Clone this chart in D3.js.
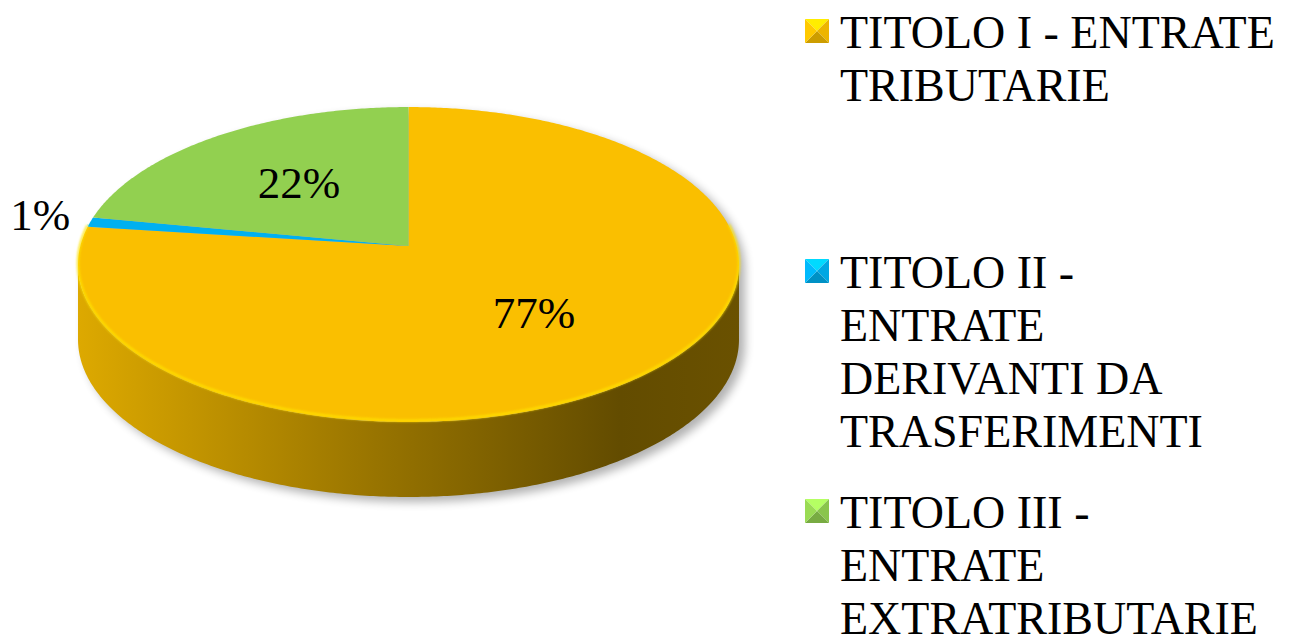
<!DOCTYPE html>
<html>
<head>
<meta charset="utf-8">
<script src="https://cdn.jsdelivr.net/npm/d3@7"></script>
<style>
  body { margin: 0; background: #fff; }
  text { font-family: "Liberation Serif", "Times New Roman", serif; fill: #000; }
</style>
</head>
<body>
<svg id="chart" width="1299" height="644"></svg>
<script>
// data
const categories = [
  "TITOLO I - ENTRATE TRIBUTARIE",
  "TITOLO II - ENTRATE DERIVANTI DA TRASFERIMENTI",
  "TITOLO III - ENTRATE EXTRATRIBUTARIE"
];
const legendLines = [
  ["TITOLO I - ENTRATE", "TRIBUTARIE"],
  ["TITOLO II -", "ENTRATE", "DERIVANTI DA", "TRASFERIMENTI"],
  ["TITOLO III -", "ENTRATE", "EXTRATRIBUTARIE"]
];
const values = [77, 1, 22];
const colors = ["#FABF00", "#00B0F0", "#92D050"];

const svg = d3.select("#chart");

// 3d pie geometry (perspective tilt of a flat disc)
const cx = 408.5, cy = 246;
const A = 328.2, B = 155.3, k = 0.1175;
const depth = 75;
const fontSize = 45;

/**
 * projects a point of the disc (angle clockwise from 12 o'clock, radius 0..1)
 * @returns [x, y] on screen
 */
const project = (a, r) => {
  const u = r * Math.sin(a), v = r * Math.cos(a);
  const w = 1 + k * v;
  return [cx + A * u / w, cy - B * v / w];
};

const rim = (a0, a1, dy = 0) => {
  const n = Math.max(2, Math.ceil(Math.abs(a1 - a0) / 0.01));
  return d3.range(n + 1).map(i => {
    const p = project(a0 + (a1 - a0) * i / n, 1);
    return [p[0], p[1] + dy];
  });
};

const total = d3.sum(values);
const arcs = d3.pie().sort(null).value(d => d)(values);

const defs = svg.append("defs");

defs.append("filter")
  .attr("id", "shadow")
  .attr("x", "-20%").attr("y", "-20%").attr("width", "140%").attr("height", "140%")
  .append("feGaussianBlur")
  .attr("stdDeviation", 5);

defs.append("filter")
  .attr("id", "soft")
  .append("feGaussianBlur")
  .attr("stdDeviation", 0.8);

// visible part of the outer wall: between the two tangent points
const wallStart = Math.acos(-k);
const wallEnd = 2 * Math.PI - wallStart;
const leftX = cx - A / Math.sqrt(1 - k * k);
const rightX = cx + A / Math.sqrt(1 - k * k);

colors.forEach((c, i) => {
  const g = defs.append("linearGradient")
    .attr("id", "wall" + i)
    .attr("gradientUnits", "userSpaceOnUse")
    .attr("x1", leftX).attr("x2", rightX)
    .attr("y1", 0).attr("y2", 0);
  [[0, 0.35], [0.45, 1.4], [0.82, 2.6], [1, 2.4]].forEach(([o, d]) => {
    g.append("stop").attr("offset", o).attr("stop-color", d3.color(c).darker(d));
  });
});

const line = d3.line();

// shadow under the disc
const bottom = rim(wallStart, wallEnd, depth);
svg.append("path")
  .attr("d", line(rim(wallEnd, 2 * Math.PI + wallStart).concat(bottom)) + "Z")
  .attr("transform", "translate(6,5)")
  .attr("fill", "#000")
  .attr("opacity", 0.3)
  .attr("filter", "url(#shadow)");

// outer walls
arcs.forEach((d, i) => {
  const a0 = Math.max(d.startAngle, wallStart);
  const a1 = Math.min(d.endAngle, wallEnd);
  if (a1 <= a0) return;
  const top = rim(a0, a1);
  const bot = rim(a1, a0, depth);
  svg.append("path")
    .attr("d", line(top.concat(bot)) + "Z")
    .attr("fill", `url(#wall${i})`);
});

// top faces
arcs.forEach((d, i) => {
  const pts = [project(0, 0)].concat(rim(d.startAngle, d.endAngle));
  svg.append("path")
    .attr("d", line(pts) + "Z")
    .attr("fill", colors[i]);
});

// light bevel along the front rim
arcs.forEach((d, i) => {
  const a0 = Math.max(d.startAngle, wallStart - 0.25);
  const a1 = Math.min(d.endAngle, wallEnd + 0.25);
  if (a1 <= a0) return;
  svg.append("path")
    .attr("d", line(rim(a0, a1, -1.5)))
    .attr("fill", "none")
    .attr("stroke", d3.color(colors[i]).brighter(0.5))
    .attr("stroke-width", 2.5)
    .attr("opacity", 0.8)
    .attr("filter", "url(#soft)");
});

// data labels
arcs.forEach((d, i) => {
  const mid = (d.startAngle + d.endAngle) / 2;
  const pct = Math.round(values[i] / total * 100) + "%";
  if (values[i] / total < 0.03) {
    const p = project(mid, 1);
    svg.append("text")
      .attr("x", p[0] - 20)
      .attr("y", p[1] - 7 + 15)
      .attr("text-anchor", "end")
      .attr("font-size", fontSize)
      .text(pct);
  } else {
    const p = project(mid, 0.55);
    svg.append("text")
      .attr("x", p[0])
      .attr("y", p[1] + 15)
      .attr("text-anchor", "middle")
      .attr("font-size", fontSize)
      .text(pct);
  }
});

// legend
const legendX = 840, legendTop = 48, entryStep = 240, lineStep = 53;
const markerSize = 24;

legendLines.forEach((lines, i) => {
  const y0 = legendTop + i * entryStep;
  const g = svg.append("g").attr("class", "legend-item").attr("data-name", categories[i]);

  const mx = 805, my = y0 - 15 - 2 - markerSize / 2, s = markerSize;
  const c = d3.color(colors[i]);
  const mc = [mx + s / 2, my + s / 2];
  const tris = [
    [[mx, my], [mx + s, my], mc, c.brighter(0.6)],
    [[mx + s, my], [mx + s, my + s], mc, c.darker(0.15)],
    [[mx + s, my + s], [mx, my + s], mc, c.darker(0.55)],
    [[mx, my + s], [mx, my], mc, c.brighter(0.15)]
  ];
  tris.forEach(t => {
    g.append("path")
      .attr("d", line(t.slice(0, 3)) + "Z")
      .attr("fill", t[3]);
  });

  g.selectAll("text")
    .data(lines)
    .enter().append("text")
    .attr("x", legendX)
    .attr("y", (l, j) => y0 + j * lineStep)
    .attr("font-size", 46)
    .text(l => l);
});
</script>
</body>
</html>
